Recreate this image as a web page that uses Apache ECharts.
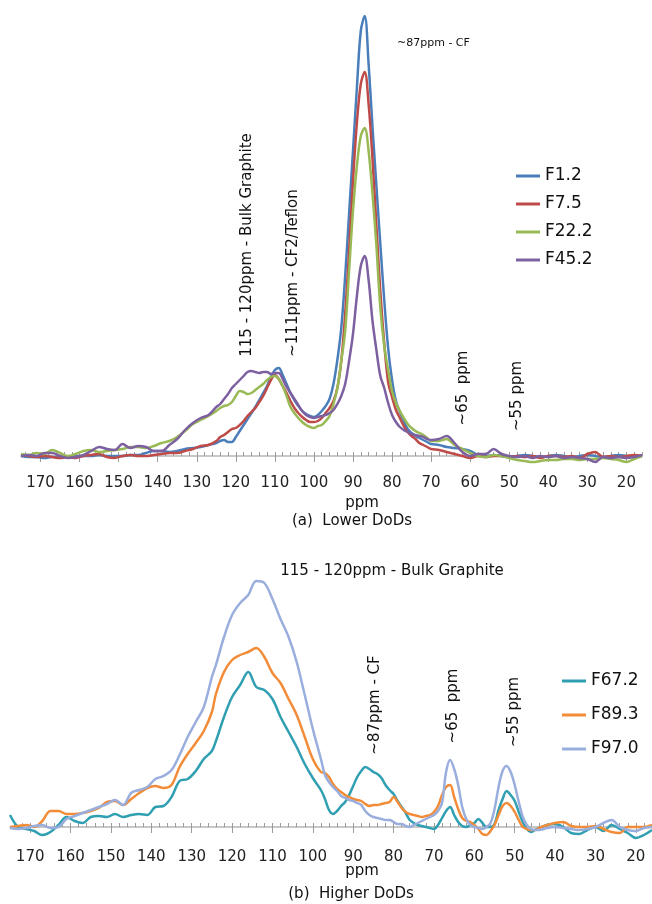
<!DOCTYPE html>
<html><head><meta charset="utf-8">
<script src="https://cdn.jsdelivr.net/npm/echarts@6/dist/echarts.min.js"></script>
<style>html,body{margin:0;padding:0;background:#fff}#c{width:652px;height:904px}</style>
</head><body><div id="c"></div>
<script>
// ---------- data ----------
const ppmTop = [175,173,171,169,167,165,163,161,159,157,155,153,151,149,147,145,143,141,139,137,135,133,131,129,127,125,
124,123,122,121,120,119,118,117,116,115,114,113,112,111,110,109,108,107,106,105,104,103,102,101,100,99,98,97,96,95,94,93,92,91,90,89,88,87,86,85,84,83,82,81,80,79,78,77,76,75,74,73,72,71,70,
68,66,64,62,60,58,56,54,52,50,48,46,44,42,40,38,36,34,32,30,28,26,24,22,20,18,16];

const F1_2 = [0,-1,-1,-2,-1,-1,-1,0,0,0,1,0,0,0,1,1,3,5,5,4,5,7,8,9,11,13,
15,16,14,14,19,25,31,37,43,49,56,63,70,79,86,88,81,72,63,56,50,45,42,40,39,41,45,50,57,72,96,128,180,242,305,368,425,440,392,329,270,212,156,108,76,55,44,35,27,23,20,18,16,14,12,
11,9,8,7,5,1,0,1,0,-1,0,1,0,-1,0,1,0,-1,0,1,0,-1,0,1,0,-1,0];

const F7_5 = [1,0,-1,0,-1,-2,-1,-2,0,1,2,-1,-2,0,1,0,0,1,2,3,3,5,7,10,11,15,
19,21,24,27,28,31,35,40,44,48,54,60,68,76,81,77,70,63,55,48,43,39,36,34,34,35,38,43,48,55,68,95,142,205,275,333,372,384,352,297,230,165,113,74,59,46,38,30,24,20,17,13,11,9,7,
6,4,2,0,-2,0,-1,0,0,-1,0,-1,0,-2,0,0,-1,0,-2,2,4,-1,0,-1,0,1,0];

const F22_2 = [2,1,3,2,6,3,0,2,5,6,4,5,6,7,9,9,8,10,13,15,19,25,32,36,40,45,
48,50,51,54,60,65,64,62,63,66,69,72,76,79,80,77,70,60,49,43,38,34,31,29,28,30,31,35,40,52,68,95,125,185,245,290,320,328,305,262,210,148,110,86,65,53,45,38,32,28,25,23,21,18,15,
15,17,11,7,3,0,-1,1,0,-2,-4,-5,-6,-5,-4,-4,-3,-3,-4,-3,-3,-2,-3,-4,-6,-3,0];

const F45_2 = [0,1,0,3,3,0,-2,-1,1,5,9,7,6,12,8,10,9,5,5,11,17,26,33,38,41,49,
52,57,62,68,72,76,80,84,85,84,83,84,84,82,83,83,77,69,63,57,51,45,41,39,38,39,40,41,43,46,52,60,72,95,122,160,190,200,176,135,106,80,68,53,41,34,29,26,24,22,21,20,19,17,16,
17,20,13,4,0,2,2,7,2,0,-1,0,-2,0,-1,0,-2,-1,-2,-3,-6,-1,-2,-1,-2,-1,1];

const ppmBottom = [175,173,171,169,167,165,163,161,159,157,155,153,151,149,147,145,143,141,139,137,135,133,131,129,127,125,
124,122,120,118,116,114,112,110,108,106,104,102,100,98,
97,96,95,94,93,92,91,90,89,88,87,86,85,84,83,82,81,80,79,78,77,76,75,74,73,72,71,70,69,68,67,66,65,64,63,62,61,60,59,58,57,56,55,54,53,52,51,50,49,48,47,46,45,44,
42,40,38,36,34,32,30,28,26,24,22,20,18,16];

const F67_2 = [12,0,-2,-4,-8,-5,2,10,6,4,10,11,10,13,10,12,13,12,20,21,30,46,48,56,68,76,
86,110,130,142,155,140,137,128,110,95,80,63,49,37,
28,17,13,16,21,25,32,41,50,56,60,58,55,53,49,42,37,33,26,20,14,7,4,2,1,0,-1,-2,2,9,16,20,12,5,1,0,2,4,8,4,0,0,3,17,28,36,32,26,15,5,-2,-5,-3,-1,
2,3,0,-6,-7,-3,0,-4,2,-2,-6,-11,-8,-3];

const F89_3 = [0,1,2,0,6,16,16,13,13,14,16,19,25,26,22,28,34,39,41,39,42,60,73,84,96,115,
133,155,167,172,175,179,170,154,144,128,112,90,68,55,
54,50,43,38,35,32,30,28,27,26,23,21,22,22,23,24,25,30,25,19,15,13,12,11,10,11,12,15,21,32,40,42,30,18,9,6,5,2,-2,-7,-8,-4,2,12,21,24,21,15,7,0,-2,-3,-3,-1,
2,4,5,1,0,0,1,-2,-5,-6,0,0,0,2];

const F97_0 = [-1,-2,-1,1,2,-1,0,8,11,14,17,20,23,27,22,34,37,40,48,51,57,72,90,105,120,150,
162,190,212,224,232,246,244,228,208,190,165,132,98,68,
52,45,40,36,31,29,27,26,24,22,16,12,10,9,8,7,7,5,3,3,1,0,2,4,6,8,10,12,16,24,55,67,58,42,20,8,2,0,-1,-2,0,4,18,40,56,61,55,42,25,10,2,-2,-3,-3,
-1,0,-1,-2,-3,-2,0,4,7,0,-3,-4,-1,0];

const tickLabels = [170,160,150,140,130,120,110,100,90,80,70,60,50,40,30,20];
const minorTicks = [174,172,170,168,166,164,162,160,158,156,154,152,150,148,146,144,142,140,138,136,134,132,130,128,126,124,122,120,118,116,114,112,110,108,106,104,102,100,98,96,94,92,90,88,86,84,82,80,78,76,74,72,70,68,66,64,62,60,58,56,54,52,50,48,46,44,42,40,38,36,34,32,30,28,26,24,22,20,18,16];

const topNames = ['F1.2','F7.5','F22.2','F45.2'];
const topValues = [F1_2, F7_5, F22_2, F45_2];
const topColors = ['#4a7ebb','#be4b48','#98b954','#7d60a0'];
const botNames = ['F67.2','F89.3','F97.0'];
const botValues = [F67_2, F89_3, F97_0];
const botColors = ['#2f9fb1','#f28c38','#9aaedd'];

// ---------- chart ----------
const FONT = 'DejaVu Sans';
const chart = echarts.init(document.getElementById('c'), null, {renderer: 'canvas'});

function mainX(gi, yi) {
  return {
    type: 'value', gridIndex: gi, min: 16, max: 175, inverse: true, position: 'bottom',
    splitLine: {show: false},
    axisLine: {show: true, onZero: true, onZeroAxisIndex: yi, lineStyle: {color: '#b5b5b5', width: 1.5}},
    axisTick: {show: true, inside: false, length: 6, customValues: tickLabels, lineStyle: {color: '#9c9c9c', width: 1}},
    axisLabel: {show: true, customValues: tickLabels, margin: 10, color: '#222', fontFamily: FONT, fontSize: 15},
    minorTick: {show: false}
  };
}
function minorX(gi, yi) {
  return {
    type: 'value', gridIndex: gi, min: 16, max: 175, inverse: true, position: 'bottom',
    splitLine: {show: false},
    axisLine: {show: false, onZero: true, onZeroAxisIndex: yi},
    axisTick: {show: true, inside: true, length: 4, customValues: minorTicks, lineStyle: {color: '#9c9c9c', width: 1}},
    axisLabel: {show: false}
  };
}

const series = [];
topNames.forEach((n, k) => series.push({
  name: n, type: 'line', xAxisIndex: 0, yAxisIndex: 0, symbol: 'none', smooth: 0.35,
  lineStyle: {width: 2.5, color: topColors[k]}, itemStyle: {color: topColors[k]},
  data: ppmTop.map((p, i) => [p, topValues[k][i]])
}));
botNames.forEach((n, k) => series.push({
  name: n, type: 'line', xAxisIndex: 2, yAxisIndex: 1, symbol: 'none', smooth: 0.35,
  lineStyle: {width: 2.5, color: botColors[k]}, itemStyle: {color: botColors[k]},
  data: ppmBottom.map((p, i) => [p, botValues[k][i]])
}));

function txt(text, x, y, size, rot, align) {
  return {
    type: 'text', x: x, y: y, rotation: rot ? Math.PI / 2 : 0, silent: true,
    style: {text: text, font: size + 'px "' + FONT + '"', fill: '#111',
      align: align || 'center', verticalAlign: 'middle', textAlign: align || 'center', textVerticalAlign: 'middle'}
  };
}

const option = {
  animation: false,
  backgroundColor: '#fff',
  grid: [
    {left: 21, top: 10, width: 621, height: 456, outerBoundsMode: 'none'},
    {left: 10, top: 570, width: 642, height: 270, outerBoundsMode: 'none'}
  ],
  xAxis: [mainX(0, 0), minorX(0, 0), mainX(1, 1), minorX(1, 1)],
  yAxis: [
    {type: 'value', gridIndex: 0, min: -10, max: 446, show: false, splitLine: {show: false}},
    {type: 'value', gridIndex: 1, min: -13, max: 257, show: false, splitLine: {show: false}}
  ],
  legend: [
    {data: topNames, orient: 'vertical', left: 511, top: 161, itemWidth: 24, itemHeight: 3, itemGap: 8, icon: 'rect',
      textStyle: {fontFamily: FONT, fontSize: 17, color: '#111', lineHeight: 20}},
    {data: botNames, orient: 'vertical', left: 557, top: 666, itemWidth: 24, itemHeight: 3, itemGap: 14, icon: 'rect',
      textStyle: {fontFamily: FONT, fontSize: 17, color: '#111', lineHeight: 20}}
  ],
  graphic: [
    txt('~87ppm - CF', 397, 43, 11, false, 'left'),
    txt('115 - 120ppm - Bulk Graphite', 247, 245, 15, true),
    txt('~111ppm - CF2/Teflon', 293, 273, 15, true),
    txt('~65  ppm', 463, 388, 15, true),
    txt('~55 ppm', 517, 396, 15, true),
    txt('ppm', 362, 503, 15),
    txt('(a)  Lower DoDs', 352, 521, 15),
    txt('115 - 120ppm - Bulk Graphite', 392, 571, 15),
    txt('~87ppm - CF', 375, 705, 15, true),
    txt('~65  ppm', 453, 706, 15, true),
    txt('~55 ppm', 514, 712, 15, true),
    txt('ppm', 362, 871, 15),
    txt('(b)  Higher DoDs', 351, 894, 15)
  ],
  series: series
};
chart.setOption(option);
</script></body></html>
